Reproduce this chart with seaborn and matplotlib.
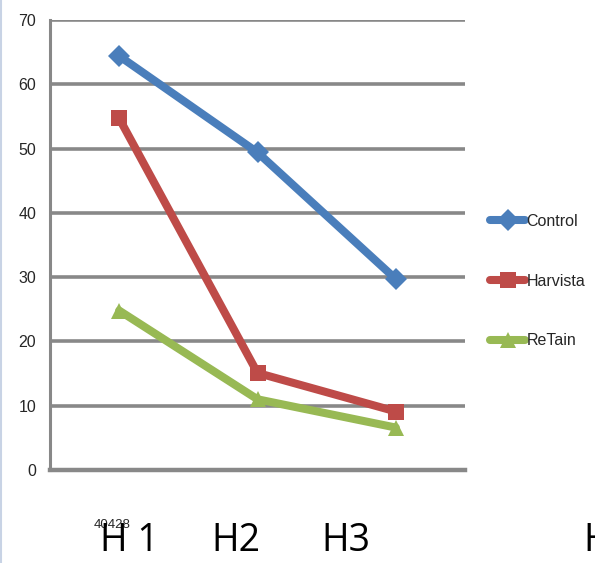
import matplotlib
matplotlib.use("Agg")
import matplotlib.pyplot as plt
import matplotlib.transforms as mtransforms
import seaborn as sns
import pandas as pd
from matplotlib.lines import Line2D

# ---- data ----
categories = ["40428", "", ""]
series_names = ["Control", "Harvista", "ReTain"]
control = [64.4, 49.4, 29.7]
harvista = [54.7, 15.1, 9.1]
retain = [24.8, 11.0, 6.6]
y_ticks = [0, 10, 20, 30, 40, 50, 60, 70]
overlay_labels = ["H 1", "H2", "H3", "H"]

colors = {"Control": "#4A7EBB", "Harvista": "#BE4B48", "ReTain": "#98B954"}
markers = {"Control": "D", "Harvista": "s", "ReTain": "^"}

sns.set_theme(style="white")
plt.rcParams["font.family"] = ["Liberation Sans", "DejaVu Sans"]

rows = []
for name, vals in zip(series_names, [control, harvista, retain]):
    for i, v in enumerate(vals):
        rows.append({"pos": i, "value": v, "series": name})
df = pd.DataFrame(rows)

fig = plt.figure(figsize=(5.95, 5.63), dpi=100)
ax = fig.add_axes([50 / 595, 1 - 470 / 563, 415 / 595, 450 / 563])

sns.lineplot(data=df, x="pos", y="value", hue="series", style="series",
             palette=colors, markers=markers, dashes=False, linewidth=5.8,
             markersize=11, markeredgewidth=0, legend=False, ax=ax)

ax.set_xlim(-0.5, 2.5)
ax.set_ylim(0, 70)
ax.set_yticks(y_ticks)
ax.set_yticklabels([str(t) for t in y_ticks], fontsize=11.5)
ax.yaxis.grid(True, color="#888888", linewidth=2.6)
ax.set_axisbelow(True)
ax.set_xlabel("")
ax.set_ylabel("")

ax.set_xticks([-0.5, 0.5, 1.5, 2.5])
ax.set_xticklabels([])
ax.set_xticks([0, 1, 2], minor=True)
ax.set_xticklabels(categories, minor=True, fontsize=9.5)
ax.tick_params(axis="x", which="major", direction="out", length=7, width=2, color="#888888")
ax.tick_params(axis="x", which="minor", length=0, pad=35)
ax.tick_params(axis="y", direction="out", length=5, width=2, color="#888888", pad=5)
offset = mtransforms.ScaledTranslation(-7 / 100, 0, fig.dpi_scale_trans)
for lbl in ax.xaxis.get_minorticklabels():
    lbl.set_transform(lbl.get_transform() + offset)

for s in ["top", "right"]:
    ax.spines[s].set_visible(False)
ax.spines["left"].set_color("#888888")
ax.spines["left"].set_linewidth(2.2)
ax.spines["bottom"].set_color("#888888")
ax.spines["bottom"].set_linewidth(3.2)

handles = [Line2D([0], [0], color=colors[n], marker=markers[n], linewidth=5.8,
                  markersize=11, markeredgewidth=0) for n in series_names]
leg = fig.legend(handles, series_names, loc="center left",
                 bbox_to_anchor=(490 / 595, 1 - 281 / 563), frameon=False,
                 fontsize=11.5, handlelength=2.2, handletextpad=0.1,
                 labelspacing=2.8, borderaxespad=0, borderpad=0)

xs = [100, 211, 321, 583]
for t, x in zip(overlay_labels, xs):
    fig.text(x / 595, 1 - 551 / 563, t, fontsize=27, family=["Open Sans", "DejaVu Sans"],
             ha="left", va="baseline", color="black")

fig.add_artist(Line2D([1 / 595, 1 / 595], [0, 1], color="#C8D3E5", linewidth=1.5,
                      transform=fig.transFigure))

fig.savefig("out.png", dpi=100)
